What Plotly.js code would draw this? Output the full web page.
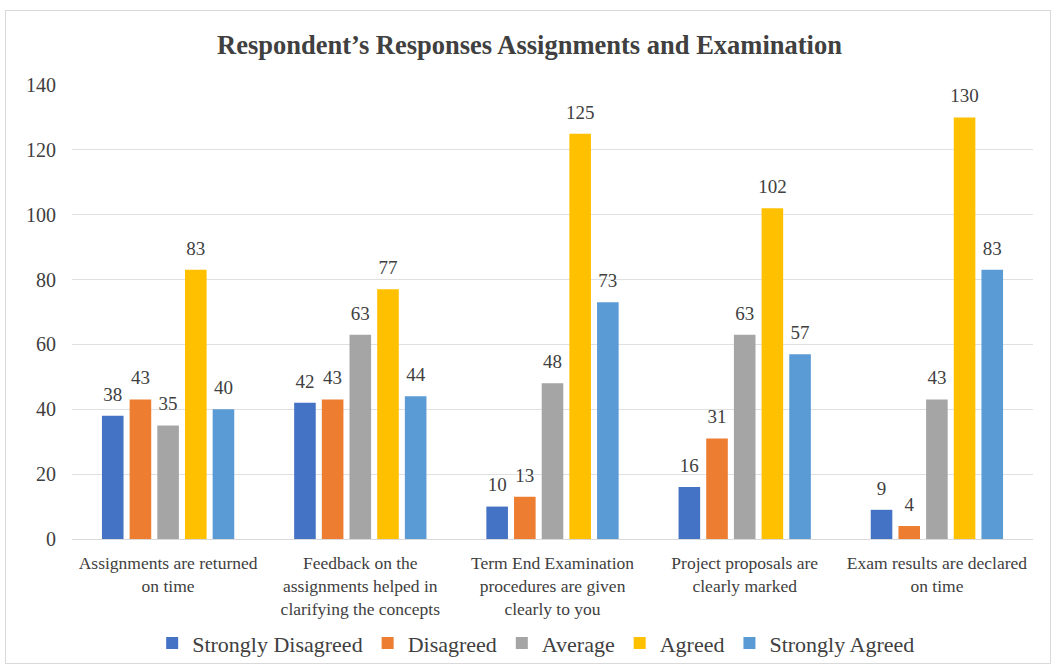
<!DOCTYPE html>
<html><head><meta charset="utf-8">
<script src="https://cdn.plot.ly/plotly-3.0.1.min.js"></script>
<style>
html,body{margin:0;padding:0;background:#fff;}
#wrap{position:relative;width:1059px;height:670px;}
#frame{position:absolute;left:5px;top:10px;width:1046px;height:654px;border:1px solid #d9d9d9;box-sizing:border-box;pointer-events:none;z-index:5;}
#chart{width:1059px;height:670px;}
</style></head>
<body><div id="wrap"><div id="frame"></div><div id="chart"></div></div>
<script>
const categories = [
  "Assignments are returned<br>on time",
  "Feedback on the<br>assignments helped in<br>clarifying the concepts",
  "Term End Examination<br>procedures are given<br>clearly to you",
  "Project proposals are<br>clearly marked",
  "Exam results are declared<br>on time"
];
const seriesNames = ["Strongly Disagreed","Disagreed","Average","Agreed","Strongly Agreed"];
const stronglyDisagreed = [38, 42, 10, 16, 9];
const disagreed = [43, 43, 13, 31, 4];
const average = [35, 63, 48, 63, 43];
const agreed = [83, 77, 125, 102, 130];
const stronglyAgreed = [40, 44, 73, 57, 83];
const yTicks = [0,20,40,60,80,100,120,140];

const colors = ["#4472C4","#ED7D31","#A5A5A5","#FFC000","#5B9BD5"];
const allValues = [stronglyDisagreed, disagreed, average, agreed, stronglyAgreed];
const font = "Liberation Serif";

const bars = allValues.map((vals,i)=>({
  type:'bar', name:seriesNames[i], x:categories, y:vals,
  marker:{color:colors[i]}, offsetgroup:String(i),
  hoverinfo:'none'
}));
const labels = allValues.map((vals,i)=>({
  type:'scatter', mode:'markers+text', x:categories, y:vals, offsetgroup:String(i),
  marker:{size:15, opacity:0}, 
  text:vals.map(String), textposition:'top center', cliponaxis:false,
  textfont:{family:font,size:19,color:'#404040'}, showlegend:false, hoverinfo:'none'
}));

const layout = {
  width:1059, height:670,
  margin:{l:72,r:26,t:85,b:131},
  font:{family:font,color:'#404040'},
  paper_bgcolor:'#ffffff', plot_bgcolor:'#ffffff',
  title:{text:"<b>Respondent\u2019s Responses Assignments and Examination</b>",
    font:{family:font,size:26.5,color:'#404040'}, x:0.5, xanchor:'center', y:0.933, yanchor:'middle'},
  barmode:'group', bargap:0.28, bargroupgap:0.22,
  scattermode:'group', scattergap:0.28,
  xaxis:{tickfont:{family:font,size:17.5,color:'#404040'}, showline:true, linecolor:'#d9d9d9',
    ticks:'outside', ticklen:8, tickcolor:'rgba(0,0,0,0)', tickangle:0, automargin:false},
  yaxis:{range:[0,140], tickvals:yTicks, showgrid:true, gridcolor:'#e0e0e0', zeroline:false, automargin:false,
    tickfont:{family:font,size:20,color:'#404040'}, ticks:'outside', ticklen:11, tickcolor:'rgba(0,0,0,0)', showline:false},
  legend:{orientation:'h', x:0.483, xanchor:'center', yref:'container', y:0.04, yanchor:'middle',
    font:{family:font,size:22,color:'#404040'}, itemwidth:30, tracegroupgap:0},
  showlegend:true
};
Plotly.newPlot('chart', bars.concat(labels), layout, {displayModeBar:false, staticPlot:true});
</script></body></html>
